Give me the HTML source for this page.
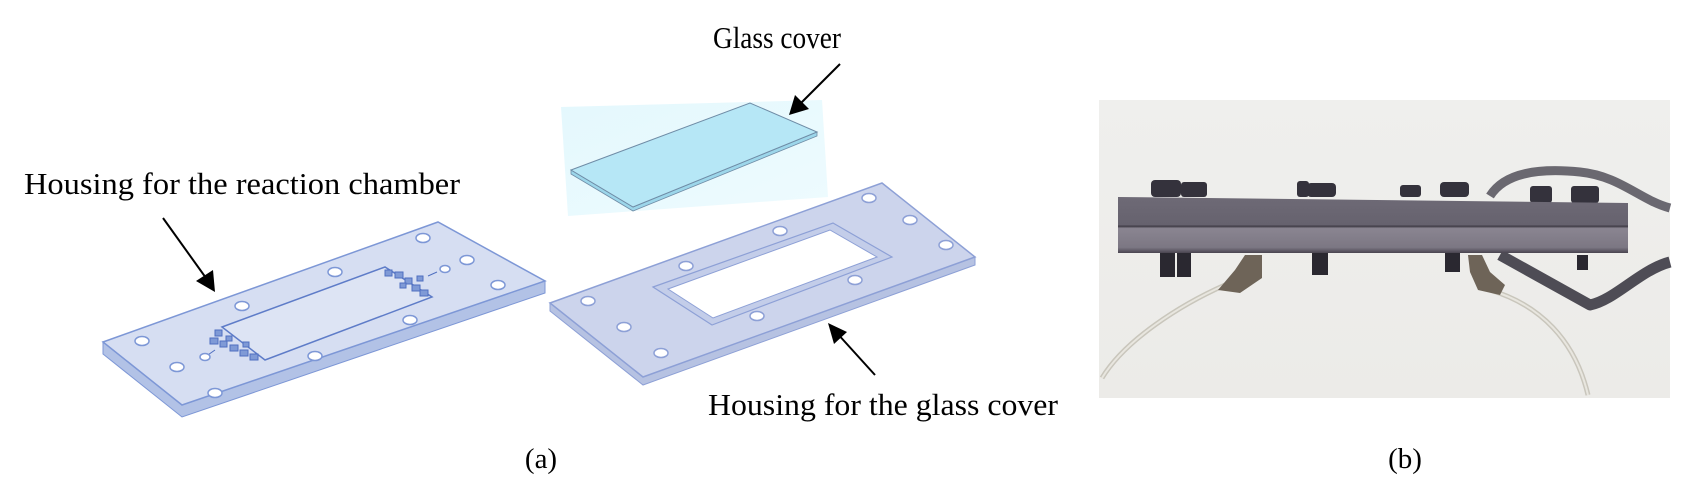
<!DOCTYPE html>
<html><head><meta charset="utf-8"><style>
html,body{margin:0;padding:0;background:#fff;}
svg{display:block;}
text{font-family:"Liberation Serif",serif;fill:#000;}
</style></head><body>
<svg width="1704" height="503" viewBox="0 0 1704 503" xmlns="http://www.w3.org/2000/svg">
<defs>
<linearGradient id="gb" x1="0" y1="0" x2="1" y2="1"><stop offset="0" stop-color="#e4f8fd"/><stop offset="1" stop-color="#eefbfe"/></linearGradient>
<linearGradient id="pbg" x1="0" y1="0" x2="0" y2="1"><stop offset="0" stop-color="#efefed"/><stop offset="1" stop-color="#ecebe8"/></linearGradient>
<linearGradient id="plate" x1="0" y1="0" x2="0" y2="1"><stop offset="0" stop-color="#6e6a76"/><stop offset="0.5" stop-color="#66626e"/><stop offset="0.52" stop-color="#3c3842"/><stop offset="0.56" stop-color="#8a8591"/><stop offset="0.9" stop-color="#7c7783"/><stop offset="1" stop-color="#4a4550"/></linearGradient>
</defs>

<!-- Labels -->
<text x="24" y="194" font-size="31" textLength="436" lengthAdjust="spacingAndGlyphs">Housing for the reaction chamber</text>
<text x="713" y="48" font-size="31" textLength="128" lengthAdjust="spacingAndGlyphs">Glass cover</text>
<text x="708" y="415" font-size="31" textLength="350" lengthAdjust="spacingAndGlyphs">Housing for the glass cover</text>
<text x="541" y="468" font-size="29" text-anchor="middle">(a)</text>
<text x="1405" y="468" font-size="29" text-anchor="middle">(b)</text>

<!-- Left plate -->
<polygon points="103,342 103,354 182,417 545,293 545,281 182,405" fill="#b2c2e6" stroke="#7d97d6" stroke-width="1"/>
<polygon points="103,342 438,222 545,281 182,405" fill="#d6def2" stroke="#7d97d6" stroke-width="1.5"/>
<polygon points="222,327 385,267 432,297 265,360" fill="#dde4f4" stroke="#5e7cc8" stroke-width="1.5"/>
<g fill="#7f9ad6" stroke="#4f6fc0" stroke-width="1">
<rect x="215" y="330" width="7" height="6"/><rect x="210" y="338" width="8" height="6"/><rect x="220" y="341" width="7" height="6"/><rect x="230" y="345" width="8" height="6"/><rect x="240" y="350" width="8" height="6"/><rect x="250" y="354" width="8" height="6"/><rect x="226" y="336" width="6" height="5"/><rect x="243" y="342" width="6" height="5"/>
<rect x="385" y="270" width="7" height="6"/><rect x="395" y="272" width="8" height="6"/><rect x="405" y="278" width="7" height="6"/><rect x="412" y="285" width="8" height="6"/><rect x="420" y="290" width="8" height="6"/><rect x="400" y="283" width="6" height="5"/><rect x="417" y="276" width="6" height="5"/>
</g>
<line x1="205" y1="357" x2="215" y2="350" stroke="#4f6fc0"/>
<line x1="437" y1="272" x2="428" y2="276" stroke="#4f6fc0"/>
<g fill="#fff" stroke="#7d97d6" stroke-width="1.5">
<ellipse cx="142" cy="341" rx="7" ry="4.5"/><ellipse cx="177" cy="367" rx="7" ry="4.5"/><ellipse cx="215" cy="393" rx="7" ry="4.5"/>
<ellipse cx="242" cy="306" rx="7" ry="4.5"/><ellipse cx="335" cy="272" rx="7" ry="4.5"/><ellipse cx="423" cy="238" rx="7" ry="4.5"/>
<ellipse cx="467" cy="260" rx="7" ry="4.5"/><ellipse cx="498" cy="285" rx="7" ry="4.5"/><ellipse cx="410" cy="320" rx="7" ry="4.5"/>
<ellipse cx="315" cy="356" rx="7" ry="4.5"/><ellipse cx="205" cy="357" rx="5" ry="3.5"/><ellipse cx="445" cy="269" rx="5" ry="3.5"/>
</g>
<line x1="163" y1="218" x2="206" y2="278" stroke="#000" stroke-width="2"/>
<polygon points="215,292 196,281 213,270" fill="#000"/>

<!-- Glass cover -->
<polygon points="561,107 822,100 828,197 568,216" fill="url(#gb)"/>
<polygon points="571,170 571,174 633,211 817,136 817,132 633,207" fill="#9cd6ea" stroke="#6f8ca6" stroke-width="0.8"/>
<polygon points="571,170 750,103 817,132 633,207" fill="#b6e7f6" stroke="#6f8ca6" stroke-width="1"/>
<line x1="840" y1="64" x2="800" y2="104" stroke="#000" stroke-width="2"/>
<polygon points="789,115 795,95 809,109" fill="#000"/>

<!-- Right plate -->
<polygon points="550,303 550,311 643,385 975,265 975,257 643,377" fill="#b6c2e2" stroke="#8da0d6" stroke-width="1"/>
<polygon points="550,303 882,183 975,257 643,377" fill="#ccd4ec" stroke="#8da0d6" stroke-width="1.5"/>
<polygon points="653,287 833,223 892,257 712,325" fill="#c3cde9" stroke="#8da0d6" stroke-width="1.2"/>
<polygon points="668,289 830,230 877,257 713,318" fill="#fff" stroke="#8da0d6" stroke-width="1"/>
<g fill="#fff" stroke="#8da0d6" stroke-width="1.5">
<ellipse cx="588" cy="301" rx="7" ry="4.5"/><ellipse cx="624" cy="327" rx="7" ry="4.5"/><ellipse cx="661" cy="353" rx="7" ry="4.5"/>
<ellipse cx="686" cy="266" rx="7" ry="4.5"/><ellipse cx="780" cy="231" rx="7" ry="4.5"/><ellipse cx="869" cy="198" rx="7" ry="4.5"/>
<ellipse cx="910" cy="220" rx="7" ry="4.5"/><ellipse cx="946" cy="245" rx="7" ry="4.5"/><ellipse cx="855" cy="280" rx="7" ry="4.5"/>
<ellipse cx="757" cy="316" rx="7" ry="4.5"/>
</g>
<line x1="875" y1="375" x2="836" y2="332" stroke="#000" stroke-width="2"/>
<polygon points="828,323 847,332 834,344" fill="#000"/>

<!-- Photo (b) -->
<rect x="1099" y="100" width="571" height="298" fill="url(#pbg)"/>
<path d="M1225,285 C1180,305 1125,340 1102,378" stroke="#c9c6bc" stroke-width="5" fill="none"/>
<path d="M1225,285 C1180,305 1125,340 1102,378" stroke="#e8e6df" stroke-width="2" fill="none"/>
<path d="M1490,290 C1540,305 1575,340 1588,395" stroke="#c9c6bc" stroke-width="5" fill="none"/>
<path d="M1490,290 C1540,305 1575,340 1588,395" stroke="#e8e6df" stroke-width="2" fill="none"/>
<path d="M1490,196 C1505,172 1540,168 1580,172 C1620,176 1640,200 1670,208" stroke="#6a6870" stroke-width="9" fill="none"/>
<path d="M1500,255 L1590,305 C1615,300 1640,270 1670,262" stroke="#4e4c55" stroke-width="11" fill="none" stroke-linejoin="round"/>
<g fill="#34323c">
<rect x="1151" y="180" width="30" height="17" rx="4"/><rect x="1181" y="182" width="26" height="15" rx="3"/>
<rect x="1297" y="181" width="12" height="16" rx="3"/><rect x="1307" y="183" width="29" height="14" rx="4"/>
<rect x="1400" y="185" width="21" height="12" rx="3"/><rect x="1440" y="182" width="29" height="15" rx="4"/>
<rect x="1530" y="186" width="22" height="17" rx="3"/><rect x="1571" y="186" width="28" height="17" rx="3"/>
</g>
<polygon points="1118,197 1628,203 1628,253 1118,253" fill="url(#plate)"/>
<g fill="#2a2830">
<rect x="1160" y="253" width="15" height="24"/><rect x="1177" y="253" width="14" height="24"/>
<rect x="1312" y="253" width="16" height="22"/><rect x="1445" y="253" width="15" height="19"/><rect x="1577" y="255" width="11" height="15"/>
</g>
<g fill="#6e6458">
<path d="M1218,290 L1235,270 L1245,255 L1262,255 L1262,278 L1240,293 Z"/>
<path d="M1468,255 L1482,255 L1490,272 L1505,285 L1500,295 L1478,290 L1470,272 Z"/>
</g>
</svg>
</body></html>
